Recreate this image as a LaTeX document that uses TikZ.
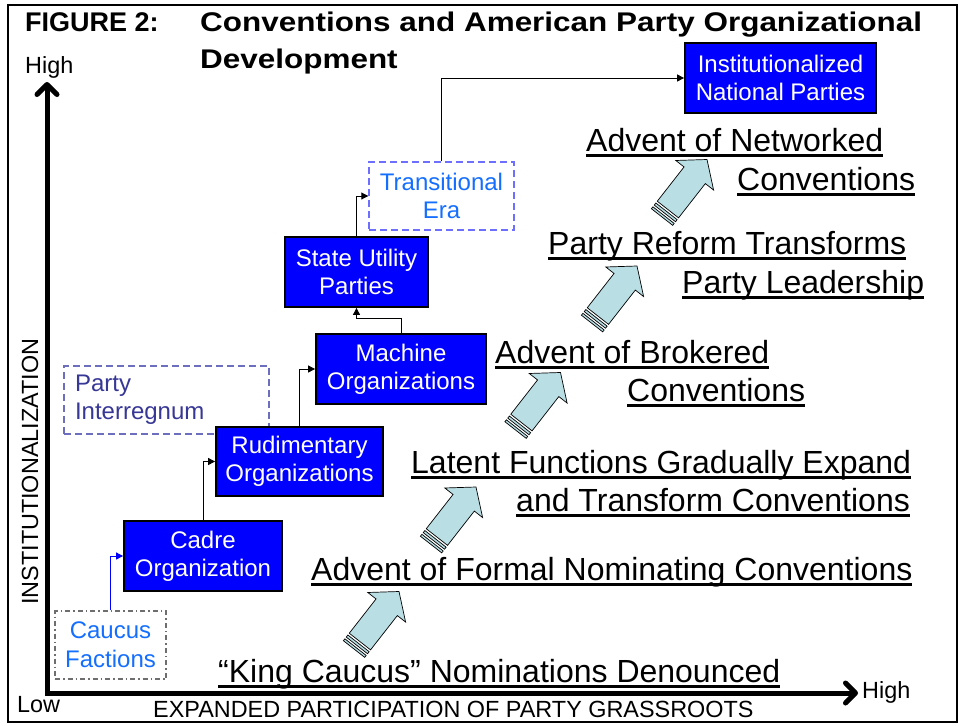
\documentclass[tikz,border=0pt]{standalone}
\usepackage{fontspec}
\setmainfont{Liberation Sans}
\usetikzlibrary{arrows.meta}
\definecolor{StageBlue}{RGB}{0,0,255}
\definecolor{EraBlue}{RGB}{20,110,255}
\definecolor{EraDash}{RGB}{110,110,255}
\definecolor{GapText}{RGB}{55,55,150}
\definecolor{GapDash}{RGB}{110,110,190}
\definecolor{FactionDash}{RGB}{110,110,110}
\definecolor{ArrowFill}{RGB}{185,222,228}
\newcommand{\ulined}[1]{\vtop{\hbox{\raisebox{0pt}[\height][0pt]{#1}}\kern2.5pt\hrule height 3pt}}

\begin{document}
\begin{tikzpicture}[x=1pt,y=-1pt,
    stagebox/.style={draw=black,line width=1.8pt,fill=StageBlue,text=white,
      font={\fontsize{24}{28}\selectfont},align=center,inner sep=0pt,minimum height=70pt},
    erabox/.style={draw=EraDash,dash pattern=on 7pt off 4pt,line width=1.4pt,text=EraBlue,
      font={\fontsize{24}{28}\selectfont},align=center,inner sep=0pt,minimum height=68pt},
    gapbox/.style={draw=GapDash,dash pattern=on 7pt off 4pt,line width=1.3pt,text=GapText,
      font={\fontsize{24}{28}\selectfont},align=left,inner ysep=0pt,inner xsep=11pt,minimum height=68pt},
    factionbox/.style={draw=FactionDash,dash pattern=on 5pt off 3pt on 1.5pt off 3pt,line width=1.3pt,
      text=EraBlue,font={\fontsize{24}{29}\selectfont},align=center,inner sep=0pt,minimum height=68pt},
    link/.style={-{Triangle[length=7pt,width=7pt]},line width=0.9pt},
    convlabel/.style={anchor=base west,inner sep=0pt,font={\fontsize{32}{37}\selectfont}},
    axislabel/.style={anchor=base west,inner sep=0pt,font={\fontsize{23.4}{27}\selectfont}},
    blockarrow/.style={draw=black,line width=0.7pt,fill=ArrowFill,line join=miter}]

  \useasboundingbox (0,0) rectangle (960,725);
  \draw[line width=2pt] (8,5) rectangle (957,722);

  \node[anchor=base west,inner sep=0pt,font={\fontsize{27}{36}\selectfont\bfseries}] (figno) at (25,32) {FIGURE 2:};
  \node[anchor=base west,inner sep=0pt,font={\fontsize{27}{36}\selectfont\bfseries}] (figtitle) at (200,32)
    {\scalebox{1.165}[1]{\begin{tabular}[t]{@{}l@{}}Conventions and American Party Organizational\\Development\end{tabular}}};

  \coordinate (ytop) at (47,82);
  \coordinate (origin) at (47,693);
  \coordinate (xend) at (858,693);
  \draw[line width=5pt,{Straight Barb[length=10pt,width=20pt,round]}-{Straight Barb[length=10pt,width=20pt,round]}]
    (ytop) -- (origin) -- (xend);
  \node[axislabel] (yhigh) at (25,74) {High};
  \node[axislabel] (xhigh) at (862,698) {High};
  \node[axislabel] (low) at (17,712) {Low};
  \node[axislabel] (xtitle) at (153,717) {EXPANDED PARTICIPATION OF PARTY GRASSROOTS};
  \node[axislabel,rotate=90] (ytitle) at (38,605) {INSTITUTIONALIZATION};

  \node[factionbox,minimum width=111pt] (caucus) at (110.5,645) {Caucus\\Factions};
  \node[stagebox,minimum width=158pt] (cadre) at (203,556) {Cadre\\Organization};
  \node[gapbox,text width=183pt] (interreg) at (166.5,400) {Party\\Interregnum};
  \node[stagebox,minimum width=167pt,minimum height=69pt] (rudim) at (299.5,461.5) {Rudimentary\\Organizations};
  \node[stagebox,minimum width=170pt] (machine) at (401,369) {Machine\\Organizations};
  \node[stagebox,minimum width=143pt] (stateutil) at (356.5,272) {State Utility\\Parties};
  \node[erabox,minimum width=145pt] (transit) at (441.5,196) {Transitional\\Era};
  \node[stagebox,minimum width=191pt] (instnat) at (780.5,78) {Institutionalized\\National Parties};

  \draw[link,StageBlue] (caucus.north) |- (cadre.west);
  \draw[link] (cadre.north) |- (rudim.west);
  \draw[link] (rudim.north) |- (machine.west);
  \draw[link] (machine.north) -- ++(0,-15) -| (stateutil.south);
  \draw[link] (stateutil.north) |- (transit.west);
  \draw[link] (transit.north) |- (instnat.west);

  \foreach \tx/\ty in {399/591.5,476/487,560.5/372.5,637/266,707/159.5}{
    \begin{scope}[shift={(\tx,\ty)},rotate=52]
      \draw[blockarrow] (0,0) -- (-20,24) -- (-20,13.5) -- (-63.5,13.5) -- (-63.5,-13.5)
        -- (-20,-13.5) -- (-20,-24) -- cycle;
      \draw[blockarrow] (-73,-13.5) rectangle (-70.6,13.5);
      \draw[blockarrow] (-68.4,-13.5) rectangle (-65.8,13.5);
    \end{scope}
  }

  \node[convlabel] (kingcaucus) at (218,682) {\ulined{``King Caucus'' Nominations Denounced}};
  \node[convlabel] (formalconv) at (311,580) {\ulined{Advent of Formal Nominating Conventions}};
  \node[convlabel] (latent) at (411,473) {\ulined{Latent Functions Gradually Expand}};
  \node[convlabel] (latentb) at (516,511) {\ulined{and Transform Conventions}};
  \node[convlabel] (brokered) at (495,363) {\ulined{Advent of Brokered}};
  \node[convlabel] (brokeredb) at (627,401) {\ulined{Conventions}};
  \node[convlabel] (reform) at (548,254) {\ulined{Party Reform Transforms}};
  \node[convlabel] (reformb) at (682,293) {\ulined{Party Leadership}};
  \node[convlabel] (networked) at (586,151) {\ulined{Advent of Networked}};
  \node[convlabel] (networkedb) at (737,190) {\ulined{Conventions}};
\end{tikzpicture}
\end{document}
